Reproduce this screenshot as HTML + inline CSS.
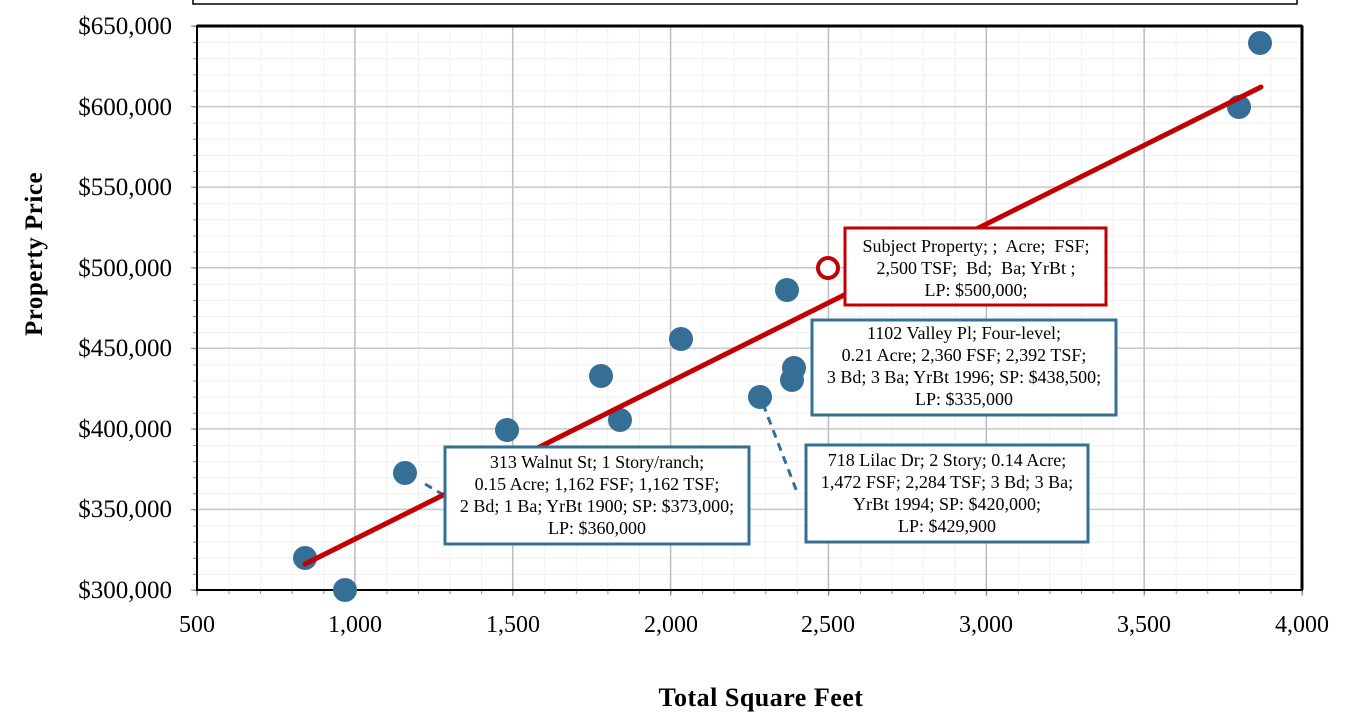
<!DOCTYPE html>
<html><head><style>
body{margin:0;background:#fff;}
svg text{font-family:"Liberation Serif",serif;white-space:pre;}
</style></head><body>
<svg width="1357" height="722" xmlns="http://www.w3.org/2000/svg">
<defs>
<pattern id="mg" x="197" y="590" width="31.5714" height="16.1143" patternUnits="userSpaceOnUse">
<line x1="0" y1="0" x2="0" y2="16.1143" stroke="#ececec" stroke-width="1.5"/>
<line x1="0" y1="0" x2="31.5714" y2="0" stroke="#ececec" stroke-width="1.5"/>
</pattern>
<pattern id="tx" x="197" y="0" width="31.5714" height="10" patternUnits="userSpaceOnUse">
<line x1="0.5" y1="0" x2="0.5" y2="10" stroke="#888" stroke-width="1"/>
</pattern>
<pattern id="ty" x="0" y="590" width="10" height="16.1143" patternUnits="userSpaceOnUse">
<line x1="0" y1="0.5" x2="10" y2="0.5" stroke="#888" stroke-width="1"/>
</pattern>
</defs>
<rect x="193" y="-2" width="1104" height="6" fill="#fff" stroke="#000" stroke-width="1.5"/>
<rect x="197" y="26" width="1105" height="564" fill="url(#mg)"/>
<rect x="197" y="590" width="1106" height="4" fill="url(#tx)"/>
<rect x="193" y="26" width="4" height="565" fill="url(#ty)"/>
<g stroke="#bdbdbd" stroke-width="1.5">
<line x1="354.86" y1="26" x2="354.86" y2="590"/>
<line x1="512.71" y1="26" x2="512.71" y2="590"/>
<line x1="670.57" y1="26" x2="670.57" y2="590"/>
<line x1="828.43" y1="26" x2="828.43" y2="590"/>
<line x1="986.29" y1="26" x2="986.29" y2="590"/>
<line x1="1144.14" y1="26" x2="1144.14" y2="590"/>
</g>
<g stroke="#c8c8c8" stroke-width="1.5">
<line x1="197" y1="509.43" x2="1302" y2="509.43"/>
<line x1="197" y1="428.86" x2="1302" y2="428.86"/>
<line x1="197" y1="348.29" x2="1302" y2="348.29"/>
<line x1="197" y1="267.71" x2="1302" y2="267.71"/>
<line x1="197" y1="187.14" x2="1302" y2="187.14"/>
<line x1="197" y1="106.57" x2="1302" y2="106.57"/>
</g>
<g stroke="#888" stroke-width="1">
<line x1="191" y1="590" x2="197" y2="590"/><line x1="191" y1="509.43" x2="197" y2="509.43"/>
<line x1="191" y1="428.86" x2="197" y2="428.86"/><line x1="191" y1="348.29" x2="197" y2="348.29"/>
<line x1="191" y1="267.71" x2="197" y2="267.71"/><line x1="191" y1="187.14" x2="197" y2="187.14"/>
<line x1="191" y1="106.57" x2="197" y2="106.57"/><line x1="191" y1="26" x2="197" y2="26"/>
<line x1="197" y1="590" x2="197" y2="596"/><line x1="354.86" y1="590" x2="354.86" y2="596"/>
<line x1="512.71" y1="590" x2="512.71" y2="596"/><line x1="670.57" y1="590" x2="670.57" y2="596"/>
<line x1="828.43" y1="590" x2="828.43" y2="596"/><line x1="986.29" y1="590" x2="986.29" y2="596"/>
<line x1="1144.14" y1="590" x2="1144.14" y2="596"/><line x1="1302" y1="590" x2="1302" y2="596"/>
</g>
<g font-size="25" text-anchor="end">
<text x="172" y="598">$300,000</text><text x="172" y="517">$350,000</text>
<text x="172" y="437">$400,000</text><text x="172" y="356">$450,000</text>
<text x="172" y="276">$500,000</text><text x="172" y="195">$550,000</text>
<text x="172" y="115">$600,000</text><text x="172" y="34">$650,000</text>
</g>
<g font-size="24" text-anchor="middle">
<text x="197" y="632">500</text><text x="355" y="632">1,000</text>
<text x="513" y="632">1,500</text><text x="671" y="632">2,000</text>
<text x="828" y="632">2,500</text><text x="986" y="632">3,000</text>
<text x="1144" y="632">3,500</text><text x="1302" y="632">4,000</text>
</g>
<rect x="197" y="26" width="1105" height="564" fill="none" stroke="#000" stroke-width="2"/>
<line x1="197" y1="26" x2="1302" y2="26" stroke="#000" stroke-width="3"/>
<line x1="1302" y1="26" x2="1302" y2="590" stroke="#000" stroke-width="3"/>
<text x="761" y="706" font-size="26" font-weight="bold" text-anchor="middle" letter-spacing="0.5">Total Square Feet</text>
<text transform="translate(42,254) rotate(-90)" font-size="25" font-weight="bold" text-anchor="middle" letter-spacing="0.5">Property Price</text>
<line x1="425" y1="484" x2="447" y2="497" stroke="#356f96" stroke-width="3" stroke-dasharray="8,6"/>
<line x1="763" y1="404" x2="797" y2="492" stroke="#356f96" stroke-width="3" stroke-dasharray="8,6"/>
<g fill="#356f96">
<circle cx="305" cy="558" r="12"/><circle cx="345" cy="590" r="12"/>
<circle cx="405" cy="473" r="12"/><circle cx="507" cy="430" r="12"/>
<circle cx="601" cy="376" r="12"/><circle cx="620" cy="420" r="12"/>
<circle cx="681" cy="339" r="12"/><circle cx="760" cy="397" r="12"/>
<circle cx="787" cy="290" r="12"/><circle cx="794" cy="368" r="12"/>
<circle cx="792" cy="380" r="12"/><circle cx="1239" cy="107" r="12"/>
<circle cx="1260" cy="43" r="12"/>
</g>
<line x1="305" y1="564" x2="1261" y2="87" stroke="#c00000" stroke-width="5" stroke-linecap="round"/>
<circle cx="828" cy="268" r="10" fill="#fff" stroke="#c00000" stroke-width="4"/>
<g font-size="18" text-anchor="middle">
<rect x="845" y="228" width="261" height="77" fill="#fff" stroke="#c00000" stroke-width="3"/>
<text x="976" y="252">Subject Property; ;  Acre;  FSF;</text>
<text x="976" y="274">2,500 TSF;  Bd;  Ba; YrBt ;</text>
<text x="976" y="296">LP: $500,000;</text>
<rect x="812" y="320" width="304" height="95" fill="#fff" stroke="#356f96" stroke-width="3"/>
<text x="964" y="339">1102 Valley Pl; Four-level;</text>
<text x="964" y="361">0.21 Acre; 2,360 FSF; 2,392 TSF;</text>
<text x="964" y="383">3 Bd; 3 Ba; YrBt 1996; SP: $438,500;</text>
<text x="964" y="405">LP: $335,000</text>
<rect x="445" y="447" width="304" height="97" fill="#fff" stroke="#356f96" stroke-width="3"/>
<text x="597" y="468">313 Walnut St; 1 Story/ranch;</text>
<text x="597" y="490">0.15 Acre; 1,162 FSF; 1,162 TSF;</text>
<text x="597" y="512">2 Bd; 1 Ba; YrBt 1900; SP: $373,000;</text>
<text x="597" y="534">LP: $360,000</text>
<rect x="806" y="445" width="282" height="97" fill="#fff" stroke="#356f96" stroke-width="3"/>
<text x="947" y="466">718 Lilac Dr; 2 Story; 0.14 Acre;</text>
<text x="947" y="488">1,472 FSF; 2,284 TSF; 3 Bd; 3 Ba;</text>
<text x="947" y="510">YrBt 1994; SP: $420,000;</text>
<text x="947" y="532">LP: $429,900</text>
</g>
</svg>
</body></html>
